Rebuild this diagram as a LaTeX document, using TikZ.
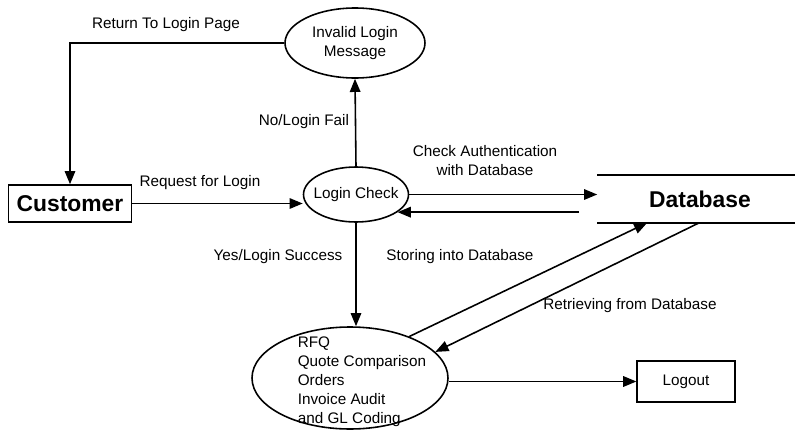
\documentclass[tikz,border=0pt]{standalone}
\usepackage{fontspec}
\setmainfont{Liberation Sans}
\usepackage{tikz}
\usetikzlibrary{arrows.meta,positioning,calc,shapes.geometric}

\begin{document}
\begin{tikzpicture}[
    line width=0.9pt,
    entity/.style={draw, rectangle, minimum width=2.46cm, minimum height=0.74cm, font=\fontsize{13}{15}\selectfont\bfseries},
    process/.style={draw, ellipse, inner xsep=-3.5pt, align=center, font=\fontsize{8.7}{10.8}\selectfont},
    flowlbl/.style={align=center, inner sep=0pt, font=\fontsize{8.7}{10.8}\selectfont},
    flow/.style={-{Triangle[length=7.5pt,width=6pt]}}
]
\useasboundingbox (0,0) rectangle (15.9,-8.6);

\node[entity] (cust) at (1.40, -4.07) {Customer};
\node[process, minimum width=2.8cm, minimum height=1.4cm] (invalid) at (7.10, -0.86) {Invalid Login\\Message};
\node[process, minimum width=2.1cm, minimum height=1.1cm] (check) at (7.12, -3.89) {Login Check};
\node[minimum width=3.94cm, minimum height=0.92cm, inner sep=0pt, font=\fontsize{13}{15}\selectfont\bfseries] (db) at (13.93, -3.98) {\hspace{0.14cm}Database};
\node[draw, ellipse, minimum width=3.92cm, minimum height=2.04cm] (proc) at (7.00, -7.56) {};
\node[flowlbl, align=left] (proctext) at (7.24, -7.64) {RFQ\\Quote Comparison\\Orders\\Invoice Audit\\and GL Coding};
\node[entity, minimum width=1.96cm, minimum height=0.82cm, line width=0.7pt, font=\fontsize{8.7}{10.8}\selectfont] (logout) at (13.72, -7.63) {Logout};

\draw (db.north west) -- (db.north east);
\draw (db.south west) -- (db.south east);

\draw[flow] (invalid.west) -| (cust.north);
\draw[flow] (cust.east) -- (cust.east -| check.west);
\draw[flow] (check.north) -- (invalid.south);
\draw[flow] (check.east) -- (check.east -| db.west);
\draw[flow] ($(check.-23 -| db.west)+(-0.36,0)$) -- (check.-23);
\draw[flow] (check.south) -- (check.south |- proc.north);
\draw[flow] (proc.35) -- ([xshift=1cm]db.south west);
\draw[flow] ([xshift=2.04cm]db.south west) -- (proc.17);
\draw[flow] (logout.west -| proc.east) -- (logout.west);

\node[flowlbl] (lret) at (3.32, -0.50) {Return To Login Page};
\node[flowlbl] (lreq) at (4.00, -3.66) {Request for Login};
\node[flowlbl] (lfail) at (6.08, -2.44) {No/Login Fail};
\node[flowlbl] (lauth) at (9.70, -3.22) {Check Authentication\\with Database};
\node[flowlbl] (lsucc) at (5.56, -5.14) {Yes/Login Success};
\node[flowlbl] (lstore) at (9.20, -5.14) {Storing into Database};
\node[flowlbl] (lretr) at (12.60, -6.12) {Retrieving from Database};

\end{tikzpicture}
\end{document}
